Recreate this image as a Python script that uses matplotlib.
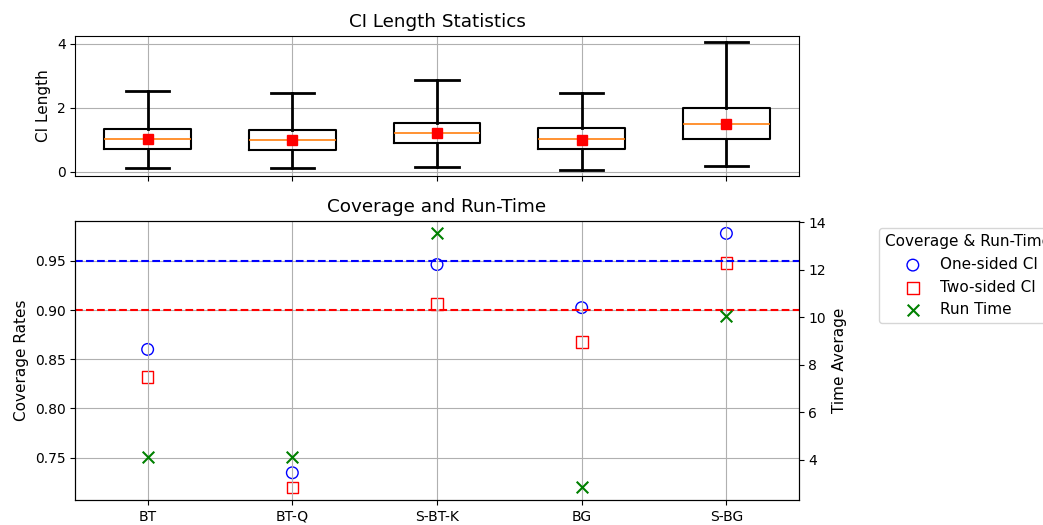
import matplotlib
matplotlib.use("Agg")
import matplotlib.pyplot as plt

plt.rcParams["font.size"] = 11
plt.rcParams["xtick.labelsize"] = 10
plt.rcParams["ytick.labelsize"] = 10

methods = ["BT", "BT-Q", "S-BT-K", "BG", "S-BG"]

# CI length box statistics
ci_low = [0.11, 0.11, 0.14, 0.07, 0.19]
ci_q1 = [0.72, 0.69, 0.89, 0.72, 1.03]
ci_med = [1.03, 1.00, 1.20, 1.03, 1.51]
ci_q3 = [1.34, 1.30, 1.53, 1.37, 2.01]
ci_high = [2.54, 2.47, 2.87, 2.47, 4.06]
ci_mean = [1.03, 0.99, 1.21, 1.01, 1.50]

one_sided = [0.860, 0.7345, 0.9463, 0.9025, 0.978]
two_sided = [0.832, 0.7197, 0.9059, 0.8678, 0.9476]
run_time = [4.12, 4.12, 13.54, 2.84, 10.04]

fig = plt.figure(figsize=(10.43, 5.25), dpi=100)
ax1 = fig.add_axes([0.0722, 0.6648, 0.6936, 0.2672])
ax2 = fig.add_axes([0.0722, 0.0476, 0.6936, 0.5320])

stats = []
for i, m in enumerate(methods):
    stats.append({
        "label": m, "whislo": ci_low[i], "q1": ci_q1[i], "med": ci_med[i],
        "q3": ci_q3[i], "whishi": ci_high[i], "mean": ci_mean[i], "fliers": [],
    })

ax1.bxp(stats, positions=range(1, 6), widths=0.6, showmeans=True,
        boxprops=dict(color="black", linewidth=1.5),
        whiskerprops=dict(color="black", linewidth=2),
        capprops=dict(color="black", linewidth=2),
        medianprops=dict(color="C1", linewidth=1.2),
        meanprops=dict(marker="s", markerfacecolor="red", markeredgecolor="red", markersize=7))
ax1.set_xticks(range(1, 6))
ax1.set_xticklabels([])
ax1.set_xlim(0.5, 5.5)
ax1.set_yticks([0, 2, 4])
ax1.set_ylabel("CI Length")
ax1.set_title("CI Length Statistics")
ax1.grid(True)

x = range(len(methods))
h1 = ax2.scatter(x, one_sided, s=70, facecolors="none", edgecolors="blue", label="One-sided CI")
h2 = ax2.scatter(x, two_sided, s=70, marker="s", facecolors="none", edgecolors="red", label="Two-sided CI")
ax2.axhline(0.95, color="blue", linestyle="--", linewidth=1.5)
ax2.axhline(0.90, color="red", linestyle="--", linewidth=1.5)
ax2.set_xticks(list(x))
ax2.set_xticklabels(methods)
ax2.set_xlim(-0.5, 4.5)
ax2.set_ylabel("Coverage Rates")
ax2.set_title("Coverage and Run-Time")
ax2.grid(True)

ax3 = ax2.twinx()
h3 = ax3.scatter(x, run_time, s=70, marker="x", color="green", label="Run Time")
ax3.set_ylabel("Time Average")

ax2.legend(handles=[h1, h2, h3], title="Coverage & Run-Time",
           loc="upper left", bbox_to_anchor=(1.1, 1))

fig.savefig("out.png", dpi=100)
